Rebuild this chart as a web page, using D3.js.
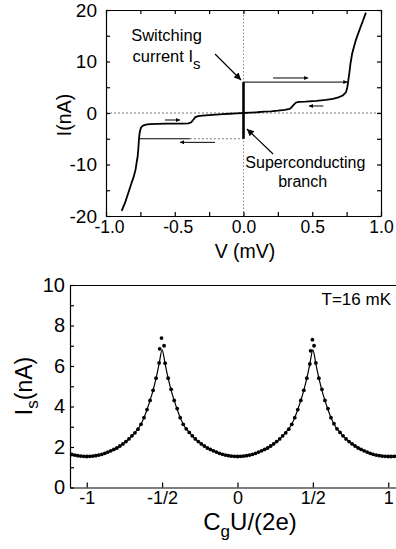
<!DOCTYPE html>
<html>
<head>
<meta charset="utf-8">
<script src="https://cdn.jsdelivr.net/npm/d3@7"></script>
<style>
  body { margin: 0; background: #fff; }
  svg { display: block; font-family: "Liberation Sans", Arial, sans-serif; }
  .axis path, .axis line { stroke: #000; stroke-width: 1.2; }
  .axis text { fill: #000; }
</style>
</head>
<body>
<script>
// ---- top panel: I-V curve ----
var ivPosV = [0, 0.05, 0.1, 0.15, 0.2, 0.25, 0.3, 0.335, 0.35, 0.365, 0.38, 0.40, 0.45, 0.53, 0.6, 0.65, 0.69, 0.722, 0.745, 0.755, 0.762, 0.77, 0.778, 0.79, 0.805, 0.82, 0.85, 0.87, 0.89];
var ivPosI = [0, 0.08, 0.15, 0.25, 0.32, 0.45, 0.62, 0.8, 1.1, 1.6, 2.0, 2.15, 2.2, 2.35, 2.55, 2.75, 3.05, 3.4, 4.0, 5.0, 6.3, 7.8, 9.6, 11.5, 13.0, 14.4, 16.6, 18.0, 19.5];
var ivNegV = [0, -0.05, -0.1, -0.15, -0.2, -0.25, -0.3, -0.33, -0.35, -0.365, -0.38, -0.40, -0.45, -0.55, -0.63, -0.68, -0.71, -0.73, -0.745, -0.752, -0.757, -0.76, -0.765, -0.77, -0.777, -0.785, -0.8, -0.813, -0.835, -0.86, -0.886];
var ivNegI = [0, -0.08, -0.15, -0.22, -0.3, -0.4, -0.5, -0.6, -0.8, -1.3, -1.8, -2.0, -2.05, -2.05, -2.1, -2.15, -2.25, -2.45, -2.8, -3.4, -4.2, -5.0, -7.0, -8.5, -9.6, -11.0, -12.5, -13.5, -15.3, -17.3, -19.0];
var superV = [0, 0];
var superI = [-5, 6];
var switchUpV = [0, 0.755];
var switchUpI = [6, 6];
var retDownSolidV = [-0.76, -0.39];
var retDownDotV = [-0.39, 0];
var retDownI = -5;

var vTicks = [-1, -0.75, -0.5, -0.25, 0, 0.25, 0.5, 0.75, 1];
var vLabels = [-1, -0.5, 0, 0.5, 1];
var iTicks = [-20, -15, -10, -5, 0, 5, 10, 15, 20];
var iLabels = [-20, -10, 0, 10, 20];

// small direction arrows [v1, i1, v2, i2]
var dirArrows = [
  [0.215, 6.8, 0.47, 6.8],
  [0.58, 1.36, 0.476, 1.36],
  [-0.571, -1.36, -0.462, -1.36],
  [-0.207, -5.7, -0.462, -5.7]
];

// ---- bottom panel: switching current vs gate charge ----
var fitGate = [-1.11, -1.05, -1.0, -0.95, -0.9, -0.85, -0.8, -0.76, -0.72, -0.68, -0.65, -0.62, -0.6, -0.58, -0.56, -0.54, -0.52, -0.5,
  -0.48, -0.46, -0.44, -0.42, -0.4, -0.38, -0.35, -0.32, -0.28, -0.24, -0.2, -0.15, -0.1, -0.05, 0,
  0.05, 0.1, 0.15, 0.2, 0.24, 0.28, 0.32, 0.35, 0.38, 0.4, 0.42, 0.44, 0.46, 0.48, 0.5,
  0.52, 0.54, 0.56, 0.58, 0.6, 0.62, 0.65, 0.68, 0.72, 0.76, 0.8, 0.85, 0.9, 0.95, 1.0, 1.08];
var fitIs = [1.65, 1.57, 1.53, 1.56, 1.64, 1.78, 1.95, 2.15, 2.4, 2.72, 3.0, 3.45, 3.85, 4.3, 4.8, 5.4, 6.1, 6.8,
  6.1, 5.4, 4.8, 4.3, 3.85, 3.45, 3.0, 2.72, 2.4, 2.15, 1.95, 1.78, 1.64, 1.56, 1.53,
  1.56, 1.64, 1.78, 1.95, 2.15, 2.4, 2.72, 3.0, 3.45, 3.85, 4.3, 4.8, 5.4, 6.1, 6.8,
  6.1, 5.4, 4.8, 4.3, 3.85, 3.45, 3.0, 2.72, 2.4, 2.15, 1.95, 1.78, 1.64, 1.56, 1.53, 1.56];

var dotGate = [-1.10, -1.08, -1.06, -1.04, -1.02, -1.00, -0.98, -0.96, -0.94, -0.92, -0.90, -0.88, -0.86, -0.84, -0.82, -0.80,
  -0.78, -0.76, -0.74, -0.72, -0.70, -0.68, -0.66, -0.64, -0.62, -0.60, -0.58, -0.56, -0.54, -0.52, -0.516, -0.504, -0.487,
  -0.48, -0.46, -0.44, -0.42, -0.40, -0.38, -0.36, -0.34, -0.32, -0.30, -0.28, -0.26, -0.24, -0.22, -0.20, -0.18, -0.16,
  -0.14, -0.12, -0.10, -0.08, -0.06, -0.04, -0.02, 0.00, 0.02, 0.04, 0.06, 0.08, 0.10, 0.12, 0.14, 0.16, 0.18, 0.20,
  0.22, 0.24, 0.26, 0.28, 0.30, 0.32, 0.34, 0.36, 0.38, 0.40, 0.42, 0.44, 0.46, 0.48, 0.485, 0.497, 0.508,
  0.52, 0.54, 0.56, 0.58, 0.60, 0.62, 0.64, 0.66, 0.68, 0.70, 0.72, 0.74, 0.76, 0.78, 0.80, 0.82, 0.84, 0.86, 0.88,
  0.90, 0.92, 0.94, 0.96, 0.98, 1.00, 1.02, 1.04, 1.06];
var dotIs = [1.63, 1.60, 1.57, 1.55, 1.54, 1.53, 1.54, 1.55, 1.57, 1.60, 1.64, 1.69, 1.75, 1.81, 1.88, 1.95,
  2.05, 2.15, 2.27, 2.40, 2.55, 2.70, 2.88, 3.12, 3.45, 3.85, 4.30, 4.80, 5.40, 6.15, 6.85, 7.38, 7.00,
  6.14, 5.40, 4.85, 4.30, 3.90, 3.45, 3.12, 2.90, 2.72, 2.55, 2.40, 2.27, 2.15, 2.05, 1.95, 1.88, 1.81,
  1.75, 1.69, 1.64, 1.60, 1.57, 1.55, 1.54, 1.53, 1.54, 1.55, 1.57, 1.60, 1.64, 1.69, 1.75, 1.81, 1.88, 1.95,
  2.05, 2.15, 2.27, 2.40, 2.55, 2.70, 2.88, 3.12, 3.45, 3.85, 4.30, 4.80, 5.40, 6.10, 6.75, 7.30, 7.00,
  6.15, 5.40, 4.85, 4.30, 3.90, 3.45, 3.15, 2.90, 2.72, 2.55, 2.40, 2.27, 2.15, 2.05, 1.95, 1.88, 1.81, 1.75, 1.69,
  1.64, 1.60, 1.57, 1.55, 1.54, 1.53, 1.53, 1.54, 1.55];

var gTicks = [-1, -0.5, 0, 0.5, 1];
var gLabels = ["-1", "-1/2", "0", "1/2", "1"];
var sTicks = [0, 1, 2, 3, 4, 5, 6, 7, 8, 9, 10];
var sLabels = [0, 2, 4, 6, 8, 10];

var svg = d3.select("body").append("svg")
  .attr("width", 396)
  .attr("height", 549);

var defs = svg.append("defs");
defs.append("marker")
  .attr("id", "bigHead")
  .attr("viewBox", "0 0 10 10")
  .attr("refX", 10).attr("refY", 5)
  .attr("markerWidth", 9).attr("markerHeight", 7)
  .attr("markerUnits", "userSpaceOnUse")
  .attr("orient", "auto")
  .append("path").attr("d", "M0,0 L10,5 L0,10 z").attr("fill", "#000");
defs.append("marker")
  .attr("id", "smallHead")
  .attr("viewBox", "0 0 10 10")
  .attr("refX", 10).attr("refY", 5)
  .attr("markerWidth", 7).attr("markerHeight", 4)
  .attr("markerUnits", "userSpaceOnUse")
  .attr("orient", "auto")
  .append("path").attr("d", "M0,0 L10,5 L0,10 z").attr("fill", "#000");

// ================= top panel =================
var xV = d3.scaleLinear().domain([-1, 1]).range([106, 381]);
var yI = d3.scaleLinear().domain([-20, 20]).range([216, 10]);

var topG = svg.append("g");

// zero reference lines
topG.append("line")
  .attr("x1", xV(-1)).attr("x2", xV(1))
  .attr("y1", yI(0)).attr("y2", yI(0))
  .attr("stroke", "#777").attr("stroke-width", 1).attr("stroke-dasharray", "2,2");
topG.append("line")
  .attr("x1", xV(0)).attr("x2", xV(0))
  .attr("y1", yI(-20)).attr("y2", yI(20))
  .attr("stroke", "#888").attr("stroke-width", 1).attr("stroke-dasharray", "1.5,2");

var vFmt = function (d) { return vLabels.indexOf(d) >= 0 ? d.toFixed(1) : ""; };
var iFmt = function (d) { return iLabels.indexOf(d) >= 0 ? String(d) : ""; };

// negative voltage labels sit centred on their digits, not on the minus sign
topG.append("g").attr("class", "axis")
  .attr("transform", "translate(0," + yI(-20) + ")")
  .call(d3.axisBottom(xV).tickValues(vTicks).tickFormat(vFmt).tickSizeInner(-4).tickSizeOuter(0).tickPadding(5))
  .selectAll("text").style("font-size", "17.5px")
  .attr("dx", function (d) { return d < 0 ? 3 : 0; });
topG.append("g").attr("class", "axis")
  .attr("transform", "translate(0," + yI(20) + ")")
  .call(d3.axisTop(xV).tickValues(vTicks).tickFormat("").tickSizeInner(-4).tickSizeOuter(0));
topG.append("g").attr("class", "axis")
  .attr("transform", "translate(" + xV(-1) + ",0)")
  .call(d3.axisLeft(yI).tickValues(iTicks).tickFormat(iFmt).tickSizeInner(-4).tickSizeOuter(0).tickPadding(9))
  .selectAll("text").style("font-size", "19px");
topG.append("g").attr("class", "axis")
  .attr("transform", "translate(" + xV(1) + ",0)")
  .call(d3.axisRight(yI).tickValues(iTicks).tickFormat("").tickSizeInner(-4).tickSizeOuter(0));

var ivLine = d3.line().x(function (d) { return xV(d[0]); }).y(function (d) { return yI(d[1]); });

topG.append("path")
  .datum(d3.zip(ivPosV, ivPosI))
  .attr("d", ivLine).attr("fill", "none").attr("stroke", "#000").attr("stroke-width", 1.8);
topG.append("path")
  .datum(d3.zip(ivNegV, ivNegI))
  .attr("d", ivLine).attr("fill", "none").attr("stroke", "#000").attr("stroke-width", 1.8);
topG.append("path")
  .datum(d3.zip(switchUpV, switchUpI))
  .attr("d", ivLine).attr("fill", "none").attr("stroke", "#000").attr("stroke-width", 1)
  .attr("marker-end", "url(#smallHead)");
topG.append("path")
  .datum(retDownSolidV.map(function (v) { return [v, retDownI]; }))
  .attr("d", ivLine).attr("fill", "none").attr("stroke", "#000").attr("stroke-width", 1);
topG.append("path")
  .datum(retDownDotV.map(function (v) { return [v, retDownI]; }))
  .attr("d", ivLine).attr("fill", "none").attr("stroke", "#777").attr("stroke-width", 1).attr("stroke-dasharray", "2,2");
topG.append("path")
  .datum(d3.zip(superV, superI))
  .attr("d", ivLine).attr("fill", "none").attr("stroke", "#000").attr("stroke-width", 2.6);

topG.selectAll(".dir").data(dirArrows).enter().append("line")
  .attr("class", "dir")
  .attr("x1", function (d) { return xV(d[0]); }).attr("y1", function (d) { return yI(d[1]); })
  .attr("x2", function (d) { return xV(d[2]); }).attr("y2", function (d) { return yI(d[3]); })
  .attr("stroke", "#000").attr("stroke-width", 1)
  .attr("marker-end", "url(#smallHead)");

// annotations
topG.append("line")
  .attr("x1", xV(-0.207)).attr("y1", yI(11.46))
  .attr("x2", xV(-0.018)).attr("y2", yI(6.4))
  .attr("stroke", "#000").attr("stroke-width", 1.2).attr("marker-end", "url(#bigHead)");
topG.append("line")
  .attr("x1", xV(0.215)).attr("y1", yI(-7.96))
  .attr("x2", xV(0.025)).attr("y2", yI(-3.1))
  .attr("stroke", "#000").attr("stroke-width", 1.2).attr("marker-end", "url(#bigHead)");

topG.append("text").attr("x", xV(-0.56)).attr("y", yI(14.0))
  .attr("text-anchor", "middle").style("font-size", "16.5px").text("Switching");
var cur = topG.append("text").attr("x", xV(-0.56)).attr("y", yI(10.0))
  .attr("text-anchor", "middle").style("font-size", "16.5px");
cur.append("tspan").text("current I");
cur.append("tspan").attr("dy", 7).style("font-size", "15px").text("s");
topG.append("text").attr("x", xV(0.45)).attr("y", yI(-10.6))
  .attr("text-anchor", "middle").style("font-size", "16px").text("Superconducting");
topG.append("text").attr("x", xV(0.43)).attr("y", yI(-14.4))
  .attr("text-anchor", "middle").style("font-size", "16px").text("branch");

topG.append("text").attr("x", 245).attr("y", 258)
  .attr("text-anchor", "middle").style("font-size", "19.5px").text("V (mV)");
topG.append("text").attr("transform", "translate(71,115) rotate(-90)")
  .attr("text-anchor", "middle").style("font-size", "19.5px").text("I(nA)");

// ================= bottom panel =================
var xG = d3.scaleLinear().domain([-1.111, 1.078]).range([70, 400]);
var yS = d3.scaleLinear().domain([0, 10]).range([487.5, 285]);

var botG = svg.append("g");

var gFmt = function (d) { return gLabels[gTicks.indexOf(d)]; };
var sFmt = function (d) { return sLabels.indexOf(d) >= 0 ? String(d) : ""; };

botG.append("g").attr("class", "axis")
  .attr("transform", "translate(0," + yS(10) + ")")
  .call(d3.axisTop(xG).tickValues([]).tickSizeOuter(0));
botG.append("g").attr("class", "axis")
  .attr("transform", "translate(0," + yS(0) + ")")
  .call(d3.axisBottom(xG).tickValues(gTicks).tickFormat(gFmt).tickSizeInner(-5).tickSizeOuter(0).tickPadding(4))
  .selectAll("text").style("font-size", "18px");
botG.append("g").attr("class", "axis")
  .attr("transform", "translate(" + xG.range()[0] + ",0)")
  .call(d3.axisLeft(yS).tickValues(sTicks).tickFormat(sFmt).tickSizeInner(-4).tickSizeOuter(0).tickPadding(5))
  .selectAll("text").style("font-size", "20px");
botG.selectAll(".axis path").attr("stroke-width", 1.5);

var fitLine = d3.line().curve(d3.curveMonotoneX)
  .x(function (d) { return xG(d[0]); }).y(function (d) { return yS(d[1]); });
botG.append("path")
  .datum(d3.zip(fitGate, fitIs))
  .attr("d", fitLine).attr("fill", "none").attr("stroke", "#000").attr("stroke-width", 1.2);

botG.selectAll(".dot").data(d3.zip(dotGate, dotIs)).enter().append("circle")
  .attr("class", "dot")
  .attr("cx", function (d) { return xG(d[0]); })
  .attr("cy", function (d) { return yS(d[1]); })
  .attr("r", 1.9).attr("fill", "#000");

botG.append("text").attr("x", 391).attr("y", 305)
  .attr("text-anchor", "end").style("font-size", "17px").text("T=16 mK");

var xl = botG.append("text").attr("x", 250).attr("y", 530)
  .attr("text-anchor", "middle").style("font-size", "24px");
xl.append("tspan").text("C");
xl.append("tspan").attr("dy", 7).style("font-size", "17px").text("g");
xl.append("tspan").attr("dy", -7).text("U/(2e)");

var yl = botG.append("text").attr("transform", "translate(32,386) rotate(-90)")
  .attr("text-anchor", "middle").style("font-size", "23px");
yl.append("tspan").text("I");
yl.append("tspan").attr("dy", 6).style("font-size", "17px").text("s");
yl.append("tspan").attr("dy", -6).text("(nA)");
</script>
</body>
</html>
